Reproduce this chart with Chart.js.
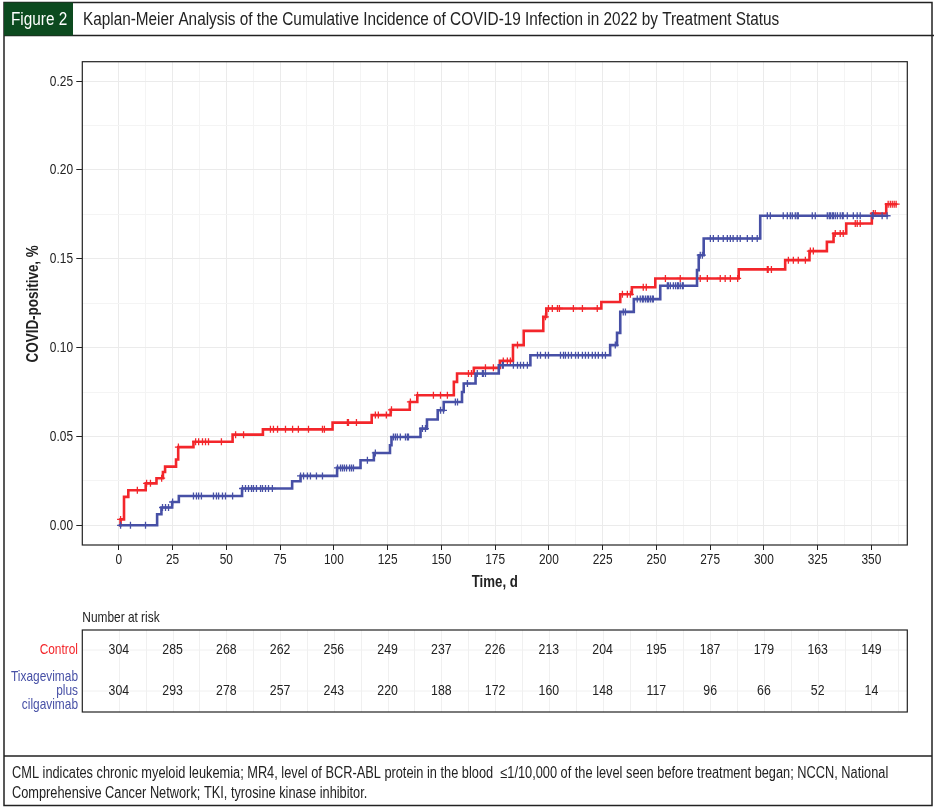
<!DOCTYPE html>
<html>
<head>
<meta charset="utf-8">
<script src="https://cdn.jsdelivr.net/npm/chart.js@4.4.0/dist/chart.umd.min.js"></script>
<style>
  html, body { margin: 0; padding: 0; background: #fff; }
  canvas { display: block; }
</style>
</head>
<body>
<canvas id="kmChart" width="938" height="812"></canvas>
<script>
// Kaplan-Meier - incidência cumulativa por grupo

const FONT = '"Liberation Sans", Arial, sans-serif';
const NARROW = 0.82; // simula Helvetica Condensed
const RED = '#f3262b';
const BLUE = '#4750a6';
const INK = '#222222';

// degraus (tempo em dias, incidência acumulada)
const controlTimes = [0, 0.8, 2.4, 4.4, 12.5, 17.5, 20.5, 21.5, 26.6, 27.6, 34.7, 52.9, 67, 99.4, 117.6,
  126.4, 135.3, 138.8, 155.8, 157.3, 165.1, 177.2, 183.3, 188.3, 197.4, 198.8, 224.4, 233.2, 238.6,
  249.5, 288.3, 309.9, 321.2, 329.3, 332.4, 338.3, 350.2, 356.9, 361.9];
const controlValues = [0, 0.0033, 0.016, 0.0197, 0.0236, 0.0265, 0.030, 0.033, 0.037, 0.044, 0.047, 0.051,
  0.054, 0.0578, 0.062, 0.065, 0.0694, 0.0732, 0.0807, 0.0854, 0.0886, 0.0925, 0.1014, 0.1094, 0.1173,
  0.122, 0.1257, 0.130, 0.134, 0.1389, 0.144, 0.1492, 0.1543, 0.1595, 0.1642, 0.1698, 0.1755, 0.1807, 0.1807];

const tixaTimes = [0, 17.8, 19.8, 24.8, 27.9, 57.3, 80.6, 84.5, 101.5, 112.4, 118.6, 126.1, 126.8, 140.3,
  143.3, 148.3, 151.1, 159.6, 160.4, 165.9, 176.7, 191.4, 228.5, 231.7, 233.2, 239.5, 251.8, 268.9,
  269.7, 272, 298.3, 357.8];
const tixaValues = [0, 0.0062, 0.010, 0.0131, 0.0165, 0.0207, 0.0248, 0.0278, 0.0323, 0.0366, 0.0407,
  0.045, 0.0497, 0.0544, 0.0595, 0.0647, 0.0694, 0.075, 0.0798, 0.0854, 0.0901, 0.0957, 0.1014, 0.1083,
  0.1201, 0.1273, 0.1348, 0.1436, 0.152, 0.1614, 0.1742, 0.1742];

// censuras (+)
const controlCensor = [0.8, 8.6, 12.9, 14.7, 19.9, 27.7, 35.7, 37.1, 38.9, 40.3, 41.7, 47.7, 54.3, 58,
  70.5, 71.9, 73.8, 77.5, 80.8, 83.5, 88.2, 94.7, 95.6, 106.3, 106.8, 110.5, 119.3, 120.7, 124.4, 126.8,
  135.6, 138.9, 146.3, 149.6, 152.8, 162.6, 164, 170.5, 174.2, 178.8, 180.7, 182.1, 185.4, 198.4, 199.8,
  201.6, 204, 204.9, 211.4, 215.6, 222.5, 234.2, 236.5, 237.9, 243.9, 245.3, 254.2, 261.1, 270.4, 273.7,
  279.7, 282, 284.4, 287.8, 301.6, 302, 303.5, 311.4, 313.7, 316, 319.3, 321.6, 323, 333.2, 335.5, 336.9,
  342.5, 343.4, 344.8, 350.9, 351.8, 357.8, 358.8, 359.7, 360.6, 361.5];
const tixaCensor = [0.8, 5.4, 12.4, 20.3, 21.7, 23.1, 25, 34.7, 36.1, 37.1, 38.4, 44, 45.4, 46.4, 48.2,
  49.6, 52.9, 57.5, 58.9, 60.3, 61.7, 62.6, 64, 65.9, 66.8, 68.2, 69.6, 71.4, 84.5, 85.9, 87.7, 89.1,
  91.9, 94.7, 101.7, 103.1, 104, 104.9, 105.9, 107.3, 108.2, 109.1, 115.6, 119.3, 127.7, 128.6, 129.5,
  130.9, 133.3, 134.2, 134.7, 141.2, 142.6, 149.6, 151, 156.5, 157.5, 162.1, 166.7, 169.1, 169.5, 170.5,
  178.4, 178.8, 183.5, 185.4, 186.8, 188.2, 190, 194.7, 196.1, 198.4, 199.8, 205.4, 206.8, 207.7, 209.1,
  210.5, 212.4, 213.7, 215.6, 217, 218.4, 220.2, 221.6, 223, 224.9, 226.3, 230.9, 234.6, 235.6, 241.1,
  242.5, 243.5, 243.9, 244.9, 245.8, 246.3, 247.2, 248.1, 248.6, 255.1, 255.6, 256.5, 257.9, 258.9,
  259.8, 260.2, 261.1, 262.1, 262.5, 270.4, 271.4, 275.1, 276.5, 278.8, 281.1, 283, 284.4, 285.7, 287.6,
  289, 292.3, 294.6, 296.9, 301.6, 303, 309, 310.9, 312.3, 313.2, 314.6, 315.5, 316, 322.5, 323.9, 329.5,
  330.4, 330.9, 331.8, 332.3, 333.2, 334.2, 335.5, 336.5, 336.9, 338.8, 341.6, 343.4, 344.8, 350.4,
  350.8, 355, 357.3];

// eixos
const xTicks = [0, 12.5, 25, 37.5, 50, 62.5, 75, 87.5, 100, 112.5, 125, 137.5, 150, 162.5, 175, 187.5,
  200, 212.5, 225, 237.5, 250, 262.5, 275, 287.5, 300, 312.5, 325, 337.5, 350, 362.5];
const yTicks = [0, 0.025, 0.05, 0.075, 0.10, 0.125, 0.15, 0.175, 0.20, 0.225, 0.25];

// número em risco
const riskTimes = [0, 25, 50, 75, 100, 125, 150, 175, 200, 225, 250, 275, 300, 325, 350];
const riskControl = [304, 285, 268, 262, 256, 249, 237, 226, 213, 204, 195, 187, 179, 163, 149];
const riskTixa = [304, 293, 278, 257, 243, 220, 188, 172, 160, 148, 117, 96, 66, 52, 14];

const titleText = 'Kaplan-Meier Analysis of the Cumulative Incidence of COVID-19 Infection in 2022 by Treatment Status';
const footLines = [
  'CML indicates chronic myeloid leukemia; MR4, level of BCR-ABL protein in the blood  \u22641/10,000 of the level seen before treatment began; NCCN, National',
  'Comprehensive Cancer Network; TKI, tyrosine kinase inhibitor.',
];

function kmAt(times, values, t) {
  let v = values[0];
  for (let i = 0; i < times.length; i++) {
    if (times[i] <= t) v = values[i];
  }
  return v;
}

function isMajorX(v) { return Math.abs(v % 25) < 1e-6; }
function isMajorY(v) { return Math.abs(Math.round(v * 1000) % 50) < 1e-6; }

// texto estreito: fonte normal comprimida na horizontal
function textN(ctx, str, x, y, o) {
  ctx.save();
  ctx.translate(x, y);
  if (o.rotate) ctx.rotate(o.rotate);
  ctx.scale(o.sx || NARROW, 1);
  ctx.font = (o.weight || 'normal') + ' ' + o.size + 'px ' + FONT;
  ctx.fillStyle = o.color || INK;
  ctx.textAlign = o.align || 'left';
  ctx.textBaseline = 'middle';
  ctx.fillText(str, 0, 0);
  ctx.restore();
}

const framePlugin = {
  id: 'frame',
  beforeDraw(chart) {
    const { ctx } = chart;
    ctx.save();
    ctx.fillStyle = '#fff';
    ctx.fillRect(0, 0, chart.width, chart.height);
    ctx.restore();
  },
  afterDraw(chart) {
    const { ctx, chartArea: a } = chart;
    const x = chart.scales.x;
    const y = chart.scales.y;
    ctx.save();

    // moldura externa
    ctx.strokeStyle = INK;
    ctx.lineWidth = 1.5;
    ctx.strokeRect(4, 2.5, 928, 803);
    ctx.beginPath();
    ctx.moveTo(4, 35.5); ctx.lineTo(934, 35.5);
    ctx.moveTo(4, 756); ctx.lineTo(932, 756);
    ctx.stroke();

    // cabeçalho
    ctx.fillStyle = '#0c4a1f';
    ctx.fillRect(4, 2.5, 69, 33);
    textN(ctx, 'Figure 2', 11, 19.5, { size: 18.7, color: '#fff' });
    textN(ctx, titleText, 83, 19.5, { size: 18.7 });

    // moldura do gráfico
    ctx.strokeStyle = INK;
    ctx.lineWidth = 1.2;
    ctx.strokeRect(a.left, a.top, a.right - a.left, a.bottom - a.top);

    // rótulos dos eixos
    xTicks.filter(isMajorX).forEach((t) => {
      textN(ctx, String(t), x.getPixelForValue(t), 560, { size: 14.5, align: 'center' });
    });
    yTicks.filter(isMajorY).forEach((v) => {
      textN(ctx, v.toFixed(2), 73, y.getPixelForValue(v) + 0.5, { size: 14.5, align: 'right' });
    });
    textN(ctx, 'Time, d', (a.left + a.right) / 2, 583, { size: 16.2, weight: 'bold', align: 'center' });
    textN(ctx, 'COVID-positive, %', 33, (a.top + a.bottom) / 2 + 0.5, {
      size: 16.4, weight: 'bold', align: 'center', rotate: -Math.PI / 2,
    });

    // tabela de número em risco
    const top = 630, bottom = 712, rowC = 650, rowT = 691;
    ctx.strokeStyle = '#f0f0f0';
    ctx.lineWidth = 1;
    ctx.beginPath();
    xTicks.forEach((t) => {
      const px = Math.round(x.getPixelForValue(t)) + 0.5;
      ctx.moveTo(px, top); ctx.lineTo(px, bottom);
    });
    ctx.moveTo(a.left, rowC); ctx.lineTo(a.right, rowC);
    ctx.moveTo(a.left, rowT); ctx.lineTo(a.right, rowT);
    ctx.stroke();
    ctx.strokeStyle = INK;
    ctx.lineWidth = 1.2;
    ctx.strokeRect(a.left, top, a.right - a.left, bottom - top);

    textN(ctx, 'Number at risk', a.left, 618, { size: 14.5 });
    riskTimes.forEach((t, i) => {
      const px = x.getPixelForValue(t);
      textN(ctx, String(riskControl[i]), px, rowC, { size: 15, align: 'center' });
      textN(ctx, String(riskTixa[i]), px, rowT, { size: 15, align: 'center' });
    });
    textN(ctx, 'Control', 78, rowC, { size: 14.5, align: 'right', color: RED });
    textN(ctx, 'Tixagevimab', 78, 677, { size: 14.5, align: 'right', color: BLUE });
    textN(ctx, 'plus', 78, 691, { size: 14.5, align: 'right', color: BLUE });
    textN(ctx, 'cilgavimab', 78, 705, { size: 14.5, align: 'right', color: BLUE });

    // rodapé
    textN(ctx, footLines[0], 12, 774, { size: 15.6 });
    textN(ctx, footLines[1], 12, 794, { size: 15.6 });
    ctx.restore();
  },
};

function censorPoints(times, values, censor) {
  return censor.map((t) => ({ x: t, y: kmAt(times, values, t) }));
}

const ctx = document.getElementById('kmChart').getContext('2d');
Chart.defaults.font.family = FONT;
Chart.defaults.color = INK;

new Chart(ctx, {
  type: 'line',
  data: {
    datasets: [
      {
        label: 'Tixagevimab plus cilgavimab',
        data: tixaTimes.map((t, i) => ({ x: t, y: tixaValues[i] })),
        borderColor: BLUE,
        borderWidth: 2.6,
        stepped: 'before',
        pointRadius: 0,
        fill: false,
        order: 1,
      },
      {
        type: 'scatter',
        label: 'Tixagevimab censor',
        data: censorPoints(tixaTimes, tixaValues, tixaCensor),
        pointStyle: 'cross',
        pointRadius: 3.5,
        borderColor: BLUE,
        borderWidth: 1.3,
        order: 0,
      },
      {
        label: 'Control',
        data: controlTimes.map((t, i) => ({ x: t, y: controlValues[i] })),
        borderColor: RED,
        borderWidth: 2.6,
        stepped: 'before',
        pointRadius: 0,
        fill: false,
        order: 3,
      },
      {
        type: 'scatter',
        label: 'Control censor',
        data: censorPoints(controlTimes, controlValues, controlCensor),
        pointStyle: 'cross',
        pointRadius: 3.5,
        borderColor: RED,
        borderWidth: 1.3,
        order: 2,
      },
    ],
  },
  options: {
    responsive: false,
    animation: false,
    devicePixelRatio: 1,
    layout: { padding: { top: 61.7, right: 30.7, bottom: 217, left: 0 } },
    plugins: {
      legend: { display: false },
      tooltip: { enabled: false },
    },
    scales: {
      x: {
        type: 'linear',
        min: -17,
        max: 366.7,
        afterBuildTicks: (scale) => { scale.ticks = xTicks.map((v) => ({ value: v })); },
        afterFit: (scale) => { scale.height = 50; },
        ticks: { autoSkip: false, maxRotation: 0, callback: () => '' },
        grid: {
          color: (c) => (c.tick && isMajorX(c.tick.value) ? '#ebebeb' : '#f4f4f4'),
          tickColor: (c) => (c.tick && isMajorX(c.tick.value) ? INK : 'rgba(0,0,0,0)'),
          tickLength: 5,
          lineWidth: 1,
        },
        border: { display: false },
      },
      y: {
        type: 'linear',
        min: -0.0111,
        max: 0.2609,
        afterBuildTicks: (scale) => { scale.ticks = yTicks.map((v) => ({ value: v })); },
        afterFit: (scale) => { scale.width = 82.3; },
        ticks: { autoSkip: false, callback: () => '' },
        grid: {
          color: (c) => (c.tick && isMajorY(c.tick.value) ? '#ebebeb' : '#f4f4f4'),
          tickColor: (c) => (c.tick && isMajorY(c.tick.value) ? INK : 'rgba(0,0,0,0)'),
          tickLength: 6,
          lineWidth: 1,
        },
        border: { display: false },
      },
    },
  },
  plugins: [framePlugin],
});
</script>
</body>
</html>
